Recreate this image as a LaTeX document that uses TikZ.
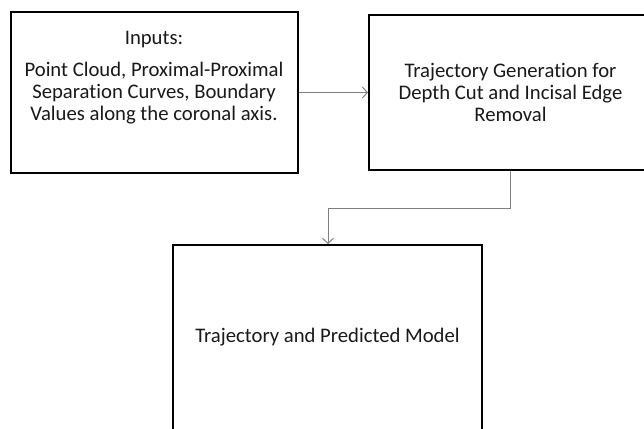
\documentclass[tikz,border=0pt]{standalone}
\usepackage{fontspec}
\setmainfont[Ligatures=NoCommon]{Carlito}
\usetikzlibrary{arrows.meta,positioning}
\def\drawlink{\draw[color=gray, line width=1pt, -{Straight Barb[length=5pt,width=11pt]}]}
\tikzset{stage/.style={draw, line width=2pt, inner sep=0pt},
  caption/.style={font=\fontsize{20.7}{22}\selectfont, align=center, text=black!90}}

\begin{document}
\begin{tikzpicture}[x=1pt,y=-1pt]
\useasboundingbox (0,0) rectangle (644,428);
\clip (0,0) rectangle (644,428);
\node[stage, minimum width=287pt, minimum height=160pt] (inputs) at (154,92.5) {};
\node[caption] (inputsHead) at (154,40) {Inputs:};
\node[caption] (inputsList) at (154,93) {Point Cloud, Proximal-Proximal\\Separation Curves, Boundary\\Values along the coronal axis.};
\node[stage, caption, minimum width=283pt, minimum height=155pt] (traj) at (510.5,92.5) {Trajectory Generation for\\Depth Cut and Incisal Edge\\Removal};
\node[stage, caption, minimum width=309pt, minimum height=185pt] (model) at (327.5,337.5) {Trajectory and Predicted Model};
\coordinate (turnA) at (510.5,208);
\coordinate (turnB) at (328,208);
\drawlink (inputs) -- (traj);
\drawlink (traj.south) -- (turnA) -- (turnB) -- (model.north -| turnB);
\end{tikzpicture}
\end{document}
